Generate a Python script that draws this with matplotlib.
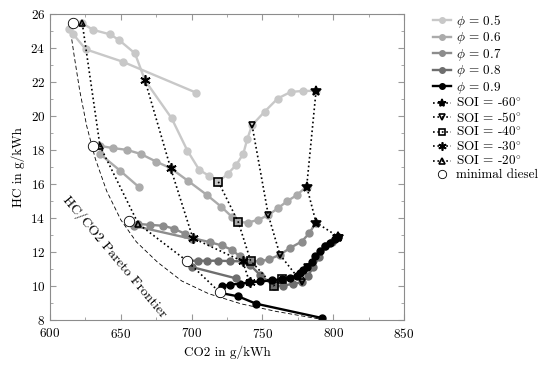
import numpy as np
import matplotlib.pyplot as plt
from matplotlib.ticker import MultipleLocator

plt.rcParams['font.family'] = ['cmr10', 'DejaVu Serif']
plt.rcParams['mathtext.fontset'] = 'cm'
plt.rcParams['axes.unicode_minus'] = False
plt.rcParams['axes.formatter.use_mathtext'] = True

# equivalence ratio sweeps (SOI sweep, long curves)
phi_labels = [0.5, 0.6, 0.7, 0.8, 0.9]
phi_colors = ['#c8c8c8', '#ababab', '#8c8c8c', '#6e6e6e', '#000000']

co2_05 = [622.8, 630.6, 642.4, 648.7, 660.0, 667.1, 685.9, 697.0, 705.4, 712.3, 718.9,
          725.5, 731.4, 736.5, 739.3, 742.7, 751.6, 760.8, 770.0, 778.9, 787.9]
hc_05 = [25.47, 25.08, 24.82, 24.49, 23.70, 22.11, 19.88, 17.98, 16.84, 16.49, 16.14,
         16.60, 17.12, 17.78, 18.65, 19.47, 20.27, 21.04, 21.43, 21.49, 21.49]
co2_06 = [635.3, 644.7, 654.2, 664.0, 674.9, 685.2, 697.7, 710.7, 720.8, 728.3, 733.0,
          740.0, 747.0, 754.2, 761.2, 767.6, 774.2, 781.3]
hc_06 = [18.25, 18.12, 18.02, 17.78, 17.33, 16.94, 16.18, 15.37, 14.68, 14.09, 13.76,
         13.74, 13.90, 14.17, 14.60, 15.00, 15.35, 15.86]
co2_07 = [662.4, 670.6, 680.0, 687.4, 695.3, 700.9, 713.0, 721.3, 728.3, 734.2, 741.7,
          748.3, 755.0, 762.4, 769.5, 777.8, 783.0, 787.9]
hc_07 = [13.66, 13.60, 13.55, 13.38, 13.08, 12.82, 12.58, 12.39, 12.14, 11.74, 11.49,
         11.45, 11.58, 11.84, 12.24, 12.62, 13.10, 13.74]
co2_08 = [697.0, 704.7, 711.1, 718.9, 727.0, 736.1, 741.2, 748.3, 757.9, 764.8, 771.8,
          777.8, 782.0, 786.0, 790.0, 794.5, 799.3, 803.6]
hc_08 = [11.49, 11.49, 11.49, 11.49, 11.47, 11.45, 11.25, 10.66, 10.02, 10.02, 10.14,
         10.21, 10.60, 11.10, 11.70, 12.33, 12.62, 12.90]
co2_09 = [721.3, 727.1, 734.2, 740.7, 748.3, 756.6, 763.6, 769.5, 774.2, 776.5, 778.9,
          781.2, 784.8, 787.1, 790.7, 794.2, 797.7, 801.3, 803.6]
hc_09 = [9.98, 10.08, 10.14, 10.21, 10.27, 10.33, 10.41, 10.47, 10.61, 10.76, 10.96,
         11.12, 11.39, 11.74, 12.04, 12.33, 12.56, 12.76, 12.88]

# short branches (diesel sweeps)
short_co2_05 = [613.6, 616.5, 625.2, 651.3, 703.1]
short_hc_05 = [25.13, 24.82, 23.94, 23.21, 21.39]
short_co2_06 = [635.3, 649.4, 662.9]
short_hc_06 = [17.78, 16.80, 15.82]
short_co2_07 = [659.0, 700.0]
short_hc_07 = [13.55, 12.78]
short_co2_08 = [700.1, 731.5]
short_hc_08 = [11.12, 10.45]
short_co2_09 = [720.0, 733.0, 745.5, 791.9]
short_hc_09 = [9.60, 9.39, 8.96, 8.12]

# lines of constant start of injection
soi_labels = [-60, -50, -40, -30, -20]
soi_co2 = [[787.9, 781.3, 787.9, 803.6, 803.6],
           [742.7, 754.2, 762.4, 777.8, 781.2],
           [718.9, 733.0, 741.7, 757.9, 763.6],
           [667.1, 685.2, 700.9, 736.1, 741.0],
           [622.8, 635.3, 662.4, 696.8, 720.0]]
soi_hc = [[21.49, 15.86, 13.74, 12.90, 12.88],
          [19.47, 14.17, 11.84, 10.21, 11.12],
          [16.14, 13.76, 11.49, 10.02, 10.41],
          [22.11, 16.94, 12.82, 11.45, 10.21],
          [25.47, 18.25, 13.66, 11.47, 9.62]]

min_diesel_co2 = [616.5, 630.1, 655.8, 696.8, 720.0]
min_diesel_hc = [25.47, 18.25, 13.80, 11.47, 9.62]

pareto_co2 = [614.0, 617.0, 621.0, 626.0, 632.0, 640.0, 650.0, 661.0, 676.0, 693.0,
              712.0, 735.0, 760.0, 791.0]
pareto_hc = [25.3, 23.6, 21.5, 19.4, 17.5, 15.6, 13.9, 12.6, 11.4, 10.3,
             9.55, 8.95, 8.5, 8.05]

fig = plt.figure(figsize=(5.5, 3.66), dpi=100)
ax = fig.add_axes([0.0909, 0.1257, 0.6436, 0.8352])

ax.plot(pareto_co2, pareto_hc, '--', color='k', lw=0.6, dashes=(5, 3), zorder=1)
ax.text(646, 11.7, 'HC/CO2 Pareto Frontier', rotation=-50, ha='center', va='center',
        fontsize=10)

long_co2 = [co2_05, co2_06, co2_07, co2_08, co2_09]
long_hc = [hc_05, hc_06, hc_07, hc_08, hc_09]
short_co2 = [short_co2_05, short_co2_06, short_co2_07, short_co2_08, short_co2_09]
short_hc = [short_hc_05, short_hc_06, short_hc_07, short_hc_08, short_hc_09]

for phi, c, x, y in zip(phi_labels, phi_colors, long_co2, long_hc):
    ax.plot(x, y, '-o', color=c, lw=1.7, ms=5, zorder=2,
            label=r'$\phi$ = %.1f' % phi)
for c, x, y in zip(phi_colors, short_co2, short_hc):
    ax.plot(x, y, '-o', color=c, lw=1.7, ms=5, zorder=2)

soi_markers = ['*', 'v', 's', (6, 2, 0), '^']
soi_ms = [7.5, 5, 5.5, 7.5, 5]
soi_face = ['k', 'none', 'none', 'k', 'none']
for soi, m, ms, fc, x, y in zip(soi_labels, soi_markers, soi_ms, soi_face, soi_co2, soi_hc):
    ax.plot(x, y, ':', color='k', lw=1.2, marker=m, ms=ms, mfc=fc, mec='k',
            mew=1.2, zorder=3, label='SOI = %d$^{\\circ}$' % soi)

ax.plot(min_diesel_co2, min_diesel_hc, 'o', ls='none', ms=7.5, mfc='white', mec='k',
        mew=0.6, zorder=5, label='minimal diesel')

ax.set_xlim(600, 850)
ax.set_ylim(8, 26)
ax.xaxis.set_major_locator(MultipleLocator(50))
ax.xaxis.set_minor_locator(MultipleLocator(25))
ax.yaxis.set_major_locator(MultipleLocator(2))
ax.yaxis.set_minor_locator(MultipleLocator(1))
ax.tick_params(which='both', direction='in', top=True, right=True, color='0.6',
               labelsize=9.5)
ax.tick_params(which='major', length=4)
ax.tick_params(which='minor', length=2)
ax.tick_params(axis='x', pad=5)
for s in ax.spines.values():
    s.set_color('0.55')
ax.set_xlabel('CO2 in g/kWh', fontsize=9.5, labelpad=3)
ax.set_ylabel('HC in g/kWh', fontsize=9.5)

fig.legend(loc='upper left', bbox_to_anchor=(0.788, 0.965), frameon=False,
           fontsize=9.5, handlelength=1.3, handletextpad=0.4, labelspacing=0.04,
           borderaxespad=0, borderpad=0, numpoints=1, markerscale=0.8)

fig.savefig('out.png', dpi=100)
